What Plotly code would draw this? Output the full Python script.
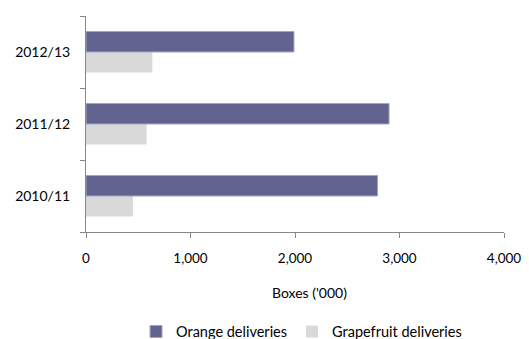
import plotly.graph_objects as go

# Seasons (bottom to top) and deliveries in thousands of boxes
seasons = ["2010/11", "2011/12", "2012/13"]
orange_deliveries = [2790, 2900, 1990]
grapefruit_deliveries = [450, 580, 635]
x_ticks = [0, 1000, 2000, 3000, 4000]
x_tick_labels = ["0", "1,000", "2,000", "3,000", "4,000"]

FONT = "Lato, 'Open Sans', sans-serif"
AXIS_GREY = "#868686"

fig = go.Figure()
# grapefruit first so it sits below the orange bar within each group
fig.add_trace(go.Bar(
    y=seasons, x=grapefruit_deliveries, orientation="h",
    name="Grapefruit deliveries", legendrank=2,
    marker=dict(color="#D9D9D9", line=dict(color="#D9D9D9", width=0)),
))
fig.add_trace(go.Bar(
    y=seasons, x=orange_deliveries, orientation="h",
    name="Orange deliveries", legendrank=1,
    marker=dict(color="#62648F", line=dict(color="#A3A5C8", width=1)),
))

fig.update_layout(
    width=529, height=339,
    margin=dict(l=86, r=25, t=16, b=107, autoexpand=False),
    paper_bgcolor="white", plot_bgcolor="white",
    barmode="group", bargap=0.43, bargroupgap=0,
    font=dict(family=FONT, size=14, color="#000000"),
    showlegend=True,
    legend=dict(
        orientation="h", xref="container", yref="container",
        x=0.57, xanchor="center", y=0.022, yanchor="middle",
        font=dict(family=FONT, size=14.5, color="#000000"),
        itemwidth=30, traceorder="normal",
    ),
    xaxis=dict(
        range=[0, 4000], tickvals=x_ticks, ticktext=x_tick_labels,
        showgrid=False, zeroline=False, showline=True, linecolor=AXIS_GREY, linewidth=1,
        ticks="outside", ticklen=5, tickcolor=AXIS_GREY, ticklabelstandoff=9,
        tickfont=dict(family=FONT, size=13.5, color="#000000"),
    ),
    yaxis=dict(
        showgrid=False, zeroline=False, showline=True, linecolor=AXIS_GREY, linewidth=1,
        ticks="outside", ticklen=5, tickcolor=AXIS_GREY, tickson="boundaries",
        tickfont=dict(family=FONT, size=14, color="#000000"),
        ticklabelstandoff=12,
    ),
    annotations=[dict(
        text="Boxes ('000)", xref="paper", yref="paper", x=0.535, y=-0.278,
        xanchor="center", yanchor="middle", showarrow=False,
        font=dict(family=FONT, size=14, color="#000000"),
    )],
)

fig.write_html("out.html")
